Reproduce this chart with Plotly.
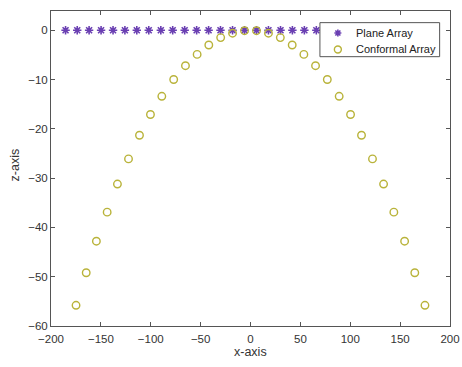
import plotly.graph_objects as go

# Element positions (x) and heights (z) of the two 32-element arrays
plane_x = [-185.4, -173.7, -161.8, -149.8, -137.8, -125.9, -114.0, -102.0,
           -89.9, -78.0, -66.0, -54.0, -42.0, -30.1, -18.0, -6.0,
           6.0, 18.0, 30.1, 42.0, 54.0, 66.0, 78.0, 89.9,
           102.0, 114.0, 125.9, 137.8, 149.8, 161.8, 173.7, 185.4]
plane_z = [0.0] * 32

conf_x = [-174.9, -164.7, -154.5, -143.7, -133.4, -122.3, -111.3, -100.3,
          -88.9, -77.0, -65.2, -53.5, -41.8, -29.9, -18.0, -6.0,
          6.0, 18.0, 29.9, 41.8, 53.5, 65.2, 77.0, 88.9,
          100.3, 111.3, 122.3, 133.4, 143.7, 154.5, 164.7, 174.9]
conf_z = [-55.8, -49.2, -42.8, -36.9, -31.2, -26.1, -21.3, -17.1,
          -13.4, -10.0, -7.2, -4.9, -3.0, -1.5, -0.6, -0.1,
          -0.1, -0.6, -1.5, -3.0, -4.9, -7.2, -10.0, -13.4,
          -17.1, -21.3, -26.1, -31.2, -36.9, -42.8, -49.2, -55.8]

series_names = ["Plane Array", "Conformal Array"]
x_ticks = [-200, -150, -100, -50, 0, 50, 100, 150, 200]
z_ticks = [-60, -50, -40, -30, -20, -10, 0]

FONT = "Liberation Sans, Arial, sans-serif"
AXIS_COLOR = "#555555"
TEXT_COLOR = "#333333"
PLANE_COLOR = "#6a3fb2"
CONF_COLOR = "#b9b33a"

fig = go.Figure()
fig.add_trace(go.Scatter(
    x=plane_x, y=plane_z, mode="markers", name=series_names[0],
    marker=dict(symbol="asterisk-open", size=7, color=PLANE_COLOR,
                line=dict(color=PLANE_COLOR, width=1.6)),
))
fig.add_trace(go.Scatter(
    x=conf_x, y=conf_z, mode="markers", name=series_names[1],
    marker=dict(symbol="circle-open", size=7.5, color=CONF_COLOR,
                line=dict(color=CONF_COLOR, width=1.4)),
))

axis_common = dict(
    showgrid=False, zeroline=False, showline=True, linecolor=AXIS_COLOR,
    linewidth=1, mirror="ticks", ticks="inside", ticklen=4,
    tickcolor=AXIS_COLOR, automargin=False,
    tickfont=dict(family=FONT, size=11.5, color=TEXT_COLOR),
)

fig.update_layout(
    width=462, height=367,
    margin=dict(l=51, r=12, t=11, b=41),
    paper_bgcolor="white", plot_bgcolor="white",
    font=dict(family=FONT, color=TEXT_COLOR),
    xaxis=dict(range=[-200, 200], tickvals=x_ticks, ticklabelstandoff=2, **axis_common),
    yaxis=dict(range=[-60, 3.9], tickvals=z_ticks, **axis_common),
    showlegend=False,
)

# Compact legend box in the upper right, drawn over the data
LEG_X0, LEG_X1, LEG_Y0, LEG_Y1 = 0.674, 0.974, 0.855, 0.963
GLYPH_X, TEXT_X = 0.719, 0.759
ROW_Y = [0.930, 0.878]

fig.add_shape(type="rect", xref="paper", yref="paper", layer="above",
              x0=LEG_X0, x1=LEG_X1, y0=LEG_Y0, y1=LEG_Y1,
              fillcolor="white", line=dict(color="#555555", width=1))

# legend glyphs, sized in pixels around their anchor
fig.add_shape(type="path", xref="paper", yref="paper", layer="above",
              xsizemode="pixel", ysizemode="pixel",
              xanchor=GLYPH_X, yanchor=ROW_Y[0],
              path="M-3.5,0H3.5M0,-3.5V3.5M-2.5,-2.5L2.5,2.5M-2.5,2.5L2.5,-2.5",
              line=dict(color=PLANE_COLOR, width=1.6))
fig.add_shape(type="circle", xref="paper", yref="paper", layer="above",
              xsizemode="pixel", ysizemode="pixel",
              xanchor=GLYPH_X, yanchor=ROW_Y[1],
              x0=-3.5, x1=3.5, y0=-3.5, y1=3.5,
              line=dict(color=CONF_COLOR, width=1.4))

for name, ry in zip(series_names, ROW_Y):
    fig.add_annotation(text=name, xref="paper", yref="paper", x=TEXT_X, y=ry,
                       xanchor="left", yanchor="middle", showarrow=False,
                       font=dict(family=FONT, size=11, color="#222222"))

# Axis titles
fig.add_annotation(text="x-axis", xref="paper", yref="paper", x=0.5, y=-0.083,
                   xanchor="center", yanchor="middle", showarrow=False,
                   font=dict(family=FONT, size=12.5, color=TEXT_COLOR))
fig.add_annotation(text="z-axis", xref="paper", yref="paper", x=-0.09, y=0.51,
                   xanchor="center", yanchor="middle", showarrow=False, textangle=-90,
                   font=dict(family=FONT, size=12.5, color=TEXT_COLOR))

fig.write_html("out.html")
